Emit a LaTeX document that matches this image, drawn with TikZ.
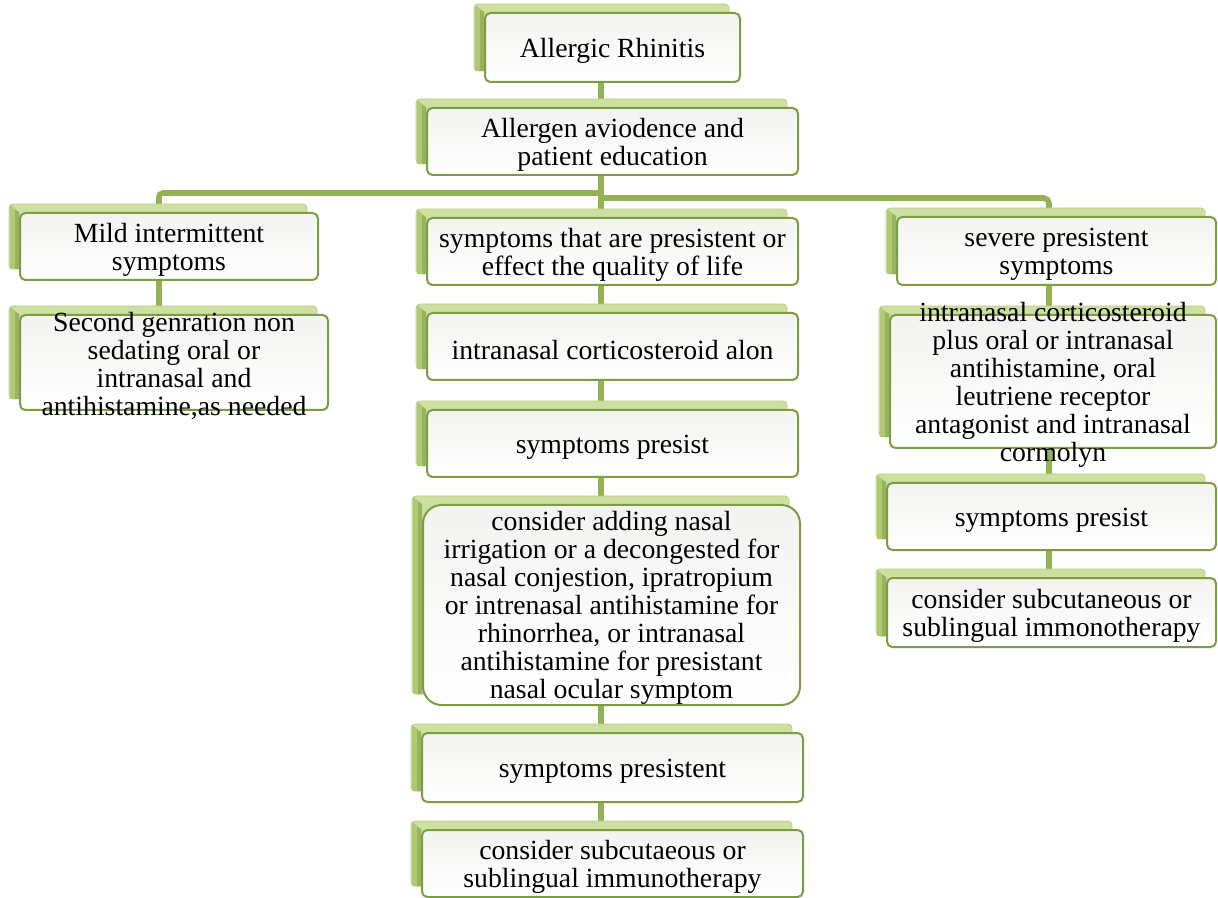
\documentclass[tikz,border=0pt]{standalone}
\usepackage{fontspec}
\setmainfont{Liberation Serif}
\definecolor{linkgreen}{HTML}{93B254}
\definecolor{rimgreen}{HTML}{7C9D40}
\definecolor{shadelight}{HTML}{CEDFA2}
\definecolor{shadeedge}{HTML}{B9CF83}
\definecolor{shadedark}{HTML}{B0C976}
\definecolor{shadedeep}{HTML}{97B35E}
\definecolor{boxgray}{HTML}{F2F2F0}

\pgfdeclarelayer{links}
\pgfdeclarelayer{shadows}
\pgfsetlayers{links,shadows,main}

\tikzset{
  card/.style={draw=rimgreen, line width=1.5pt, rounded corners=4pt,
    top color=boxgray, bottom color=white, inner sep=0pt},
  cardtext/.style={align=center, inner sep=0pt, yshift=-2.5pt,
    font=\fontsize{20.8pt}{21pt}\selectfont},
  link/.style={draw=linkgreen, line width=4.2pt},
}

% \card[options]{name}{x1}{y1}{x2}{y2}{text}: framed box with a green bevel behind it
\newcommand\card[7][]{%
  \node[card,#1,minimum width={(#5-#3)*0.75pt},minimum height={(#6-#4)*0.75pt}]
    (#2) at ({(#3+#5)/2},{(#4+#6)/2}) {};
  \node[cardtext] (#2-text) at (#2.center) {#7};
  \begin{pgfonlayer}{shadows}
    \fill[shadelight,draw=shadeedge,line width=0.6pt,rounded corners=3pt]
      ([shift={(-10,-8)}]#2.north west) rectangle ([shift={(-12,-12)}]#2.south east);
    \fill[shadedark]
      ([shift={(-9,-7)}]#2.north west) -- (#2.north west)
      -- ([shift={(0,-12)}]#2.south west) -- ([shift={(-9,-12)}]#2.south west) -- cycle;
    \fill[shadedeep]
      ([shift={(-4,-2)}]#2.north west) -- (#2.north west)
      -- ([shift={(0,-12)}]#2.south west) -- ([shift={(-4,-12)}]#2.south west) -- cycle;
  \end{pgfonlayer}
}

\begin{document}
\begin{tikzpicture}[x=0.75pt,y=-0.75pt]
\useasboundingbox (0,0) rectangle (1218,898);

% top of the chart
\card{root}{485}{13}{740}{82}{Allergic Rhinitis}
\card{edu}{427}{108}{798}{175}{Allergen aviodence and\\patient education}

% left column
\card{mild}{20}{213}{318}{280}{Mild intermittent\\symptoms}
\card{second}{20}{315}{328}{410}{Second genration non\\sedating oral or\\intranasal and\\antihistamine,as needed}

% middle column
\card{qol}{427}{218}{798}{285}{symptoms that are presistent or\\effect the quality of life}
\card{alone}{427}{313}{798}{380}{intranasal corticosteroid alon}
\card{persistA}{427}{410}{798}{477}{symptoms presist}
\card[rounded corners=14pt]{adding}{423}{505}{800}{705}{consider adding nasal\\irrigation or a decongested for\\nasal conjestion, ipratropium\\or intrenasal antihistamine for\\rhinorrhea, or intranasal\\antihistamine for presistant\\nasal ocular symptom}
\card{persistB}{422}{733}{803}{802}{symptoms presistent}
\card{immunoA}{422}{830}{803}{897}{consider subcutaeous or\\sublingual immunotherapy}

% right column
\card{severe}{897}{217}{1216}{285}{severe presistent\\symptoms}
\card{combo}{890}{315}{1216}{448}{intranasal corticosteroid\\plus oral or intranasal\\antihistamine, oral\\leutriene receptor\\antagonist and intranasal\\cormolyn}
\card{persistC}{887}{483}{1216}{550}{symptoms presist}
\card{immunoB}{887}{578}{1216}{647}{consider subcutaneous or\\sublingual immonotherapy}

% connectors
\coordinate (mid) at (601,0);
\coordinate (lft) at (159,0);
\coordinate (rgt) at (1049,0);
\coordinate (busL) at (159,193);
\coordinate (busR) at (1049,198);
\begin{pgfonlayer}{links}
  \draw[link] (root.south -| mid) -- (edu.north -| mid);
  \draw[link] (edu.south -| mid) -- (qol.north -| mid);
  \draw[link,rounded corners=3] (edu.south -| mid) -- (mid |- busL) -- (busL) -- (mild.north -| lft);
  \draw[link,rounded corners=4] (mid |- busR) -- (busR) -- (severe.north -| rgt);
  \draw[link] (mild.south -| lft) -- (second.north -| lft);
  \draw[link] (qol.south -| mid) -- (alone.north -| mid);
  \draw[link] (alone.south -| mid) -- (persistA.north -| mid);
  \draw[link] (persistA.south -| mid) -- (adding.north -| mid);
  \draw[link] (adding.south -| mid) -- (persistB.north -| mid);
  \draw[link] (persistB.south -| mid) -- (immunoA.north -| mid);
  \draw[link] (severe.south -| rgt) -- (combo.north -| rgt);
  \draw[link] (combo.south -| rgt) -- (persistC.north -| rgt);
  \draw[link] (persistC.south -| rgt) -- (immunoB.north -| rgt);
\end{pgfonlayer}
\end{tikzpicture}
\end{document}
